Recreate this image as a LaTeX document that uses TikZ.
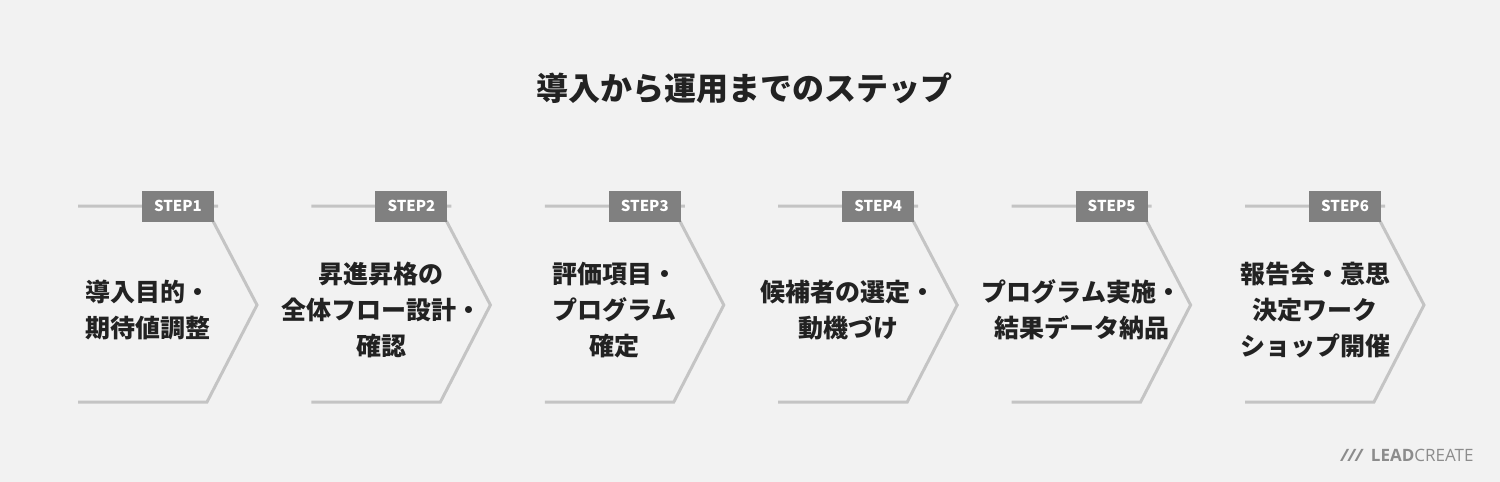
\documentclass[tikz,border=0pt]{standalone}
\usepackage{fontspec}
\setmainfont{Noto Sans CJK JP}
\newfontfamily\logofont{Open Sans}
\usetikzlibrary{positioning}
\definecolor{bgcol}{HTML}{F2F2F2}
\definecolor{linecol}{HTML}{C4C4C4}
\definecolor{tagcol}{HTML}{808080}
\definecolor{textcol}{HTML}{222222}
\definecolor{logocol}{HTML}{8C8C8C}
\tikzset{
    steptag/.style={fill=tagcol, text=white, minimum width=72pt, minimum height=31pt, inner sep=0pt, font=\bfseries\fontsize{15}{15}\selectfont},
    steptext/.style={text=textcol, align=center, font=\bfseries\fontsize{25}{36}\selectfont},
    chevron/.style={draw=linecol, line width=3pt, line join=miter}
}
\begin{document}
\begin{tikzpicture}[x=1pt, y=-1pt]
    % background
    \fill[bgcol] (0,0) rectangle (1500,482);
    \useasboundingbox (0,0) rectangle (1500,482);
    % title
    \node[text=textcol, font=\bfseries\fontsize{32}{32}\selectfont] (title) at (744,88) {導入から運用までのステップ};
    % steps
    \foreach \i/\txt in {1/{導入目的・\\期待値調整},
                         2/{昇進昇格の\\全体フロー設計・\\確認},
                         3/{評価項目・\\プログラム\\確定},
                         4/{候補者の選定・\\動機づけ},
                         5/{プログラム実施・\\結果データ納品},
                         6/{報告会・意思\\決定ワーク\\ショップ開催}} {
        \pgfmathsetmacro{\xo}{78+233.4*(\i-1)}
        \draw[chevron] (\xo,206) -- ++(140,0) (\xo+135,221) -- ++(44,84) -- ++(-50,97) -- (\xo,402);
        \node[steptag] (tag\i) at (\xo+100,206) {STEP\i};
        \node[steptext] (text\i) at (\xo+70,310) {\txt};
    }
    % logo
    \node[anchor=east, text=logocol, font=\logofont\fontsize{17}{17}\selectfont] (logo) at (1477,455) {\textbf{\textit{///}}\, \textbf{LEAD}CREATE};
\end{tikzpicture}
\end{document}
